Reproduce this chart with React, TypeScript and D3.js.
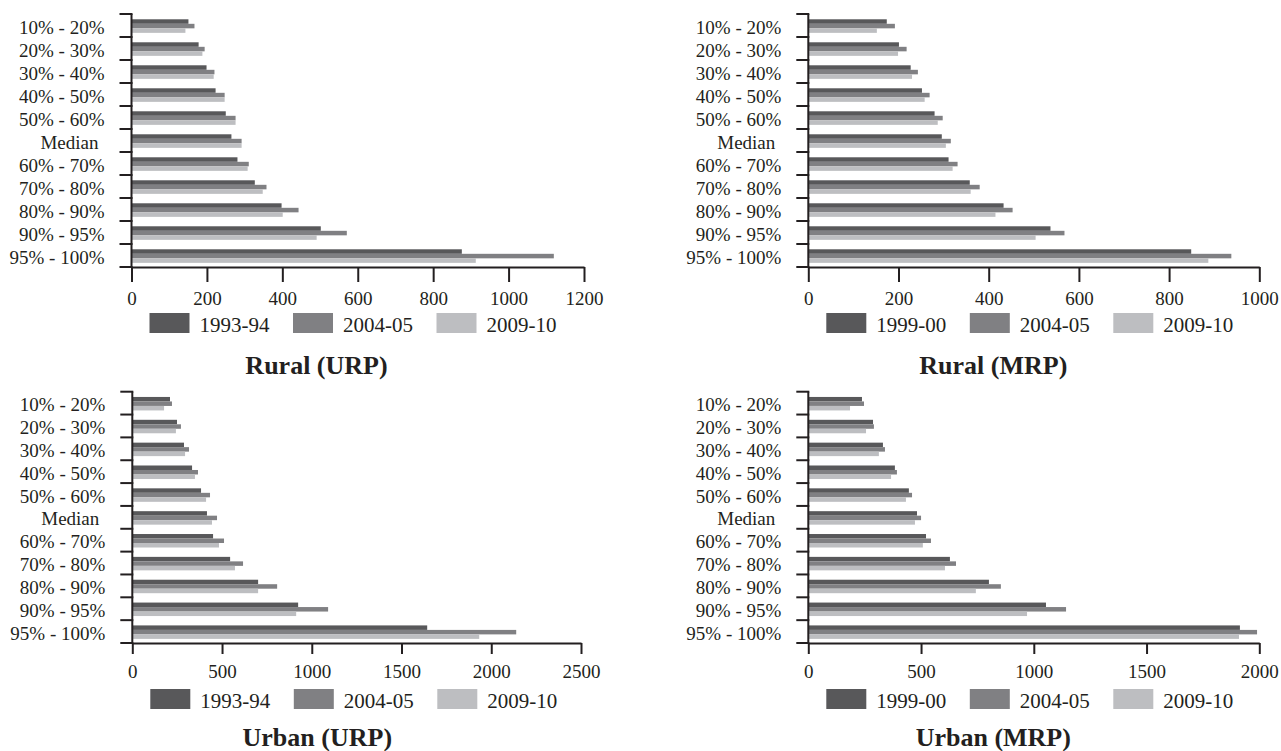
import React, { useEffect, useRef } from "react";
import * as d3 from "d3";

// decile classes, top to bottom
const categories = [
  "10% - 20%", "20% - 30%", "30% - 40%", "40% - 50%", "50% - 60%", "Median",
  "60% - 70%", "70% - 80%", "80% - 90%", "90% - 95%", "95% - 100%",
];

const urpYears = ["1993-94", "2004-05", "2009-10"];
const mrpYears = ["1999-00", "2004-05", "2009-10"];

// Rural (URP)
const ruralURP1993 = [151, 178, 199, 223, 250, 265, 281, 327, 398, 502, 876];
const ruralURP2004 = [167, 194, 220, 247, 276, 292, 311, 358, 443, 571, 1120];
const ruralURP2009 = [143, 188, 218, 247, 276, 292, 308, 348, 401, 491, 913];

// Rural (MRP)
const ruralMRP1999 = [174, 201, 227, 252, 280, 296, 311, 358, 433, 537, 849];
const ruralMRP2004 = [192, 218, 243, 269, 298, 316, 331, 380, 453, 568, 938];
const ruralMRP2009 = [152, 199, 230, 258, 287, 305, 320, 360, 415, 504, 887];

// Urban (URP)
const urbanURP1993 = [210, 249, 288, 333, 383, 416, 450, 545, 701, 924, 1643];
const urbanURP2004 = [221, 271, 316, 366, 433, 472, 511, 617, 807, 1091, 2139];
const urbanURP2009 = [177, 243, 294, 349, 411, 444, 483, 572, 701, 913, 1933];

// Urban (MRP)
const urbanMRP1999 = [238, 287, 331, 384, 446, 482, 522, 628, 801, 1054, 1914];
const urbanMRP2004 = [247, 291, 340, 393, 460, 500, 544, 655, 854, 1143, 1990];
const urbanMRP2009 = [185, 256, 313, 367, 433, 473, 508, 606, 743, 970, 1910];

const colors = ["#58585a", "#808083", "#bdbec1"];
const ink = "#231f20";
const serif = "'Liberation Serif', 'Times New Roman', serif";

const panels = [
  { title: "Rural (URP)", years: urpYears, series: [ruralURP1993, ruralURP2004, ruralURP2009],
    max: 1200, step: 200, x0: 131.5, x1: 584, top: 14, axisY: 267, tickLen: 15, labelY: 38, titleY: 107 },
  { title: "Rural (MRP)", years: mrpYears, series: [ruralMRP1999, ruralMRP2004, ruralMRP2009],
    max: 1000, step: 200, x0: 808.3, x1: 1259.3, top: 14, axisY: 267, tickLen: 15, labelY: 38, titleY: 107 },
  { title: "Urban (URP)", years: urpYears, series: [urbanURP1993, urbanURP2004, urbanURP2009],
    max: 2500, step: 500, x0: 132.3, x1: 581, top: 391.7, axisY: 643, tickLen: 11, labelY: 35, titleY: 103 },
  { title: "Urban (MRP)", years: mrpYears, series: [urbanMRP1999, urbanMRP2004, urbanMRP2009],
    max: 2000, step: 500, x0: 808.3, x1: 1259.3, top: 391.7, axisY: 643, tickLen: 11, labelY: 35, titleY: 103 },
];

function drawPanel(g: any, p: any) {
  const x = d3.scaleLinear().domain([0, p.max]).range([p.x0, p.x1]);
  const y = d3.scaleBand().domain(categories).range([p.top, p.axisY]);
  const bw = y.bandwidth();
  const inner = d3.scaleBand<number>().domain([0, 1, 2]).range([bw * 0.23, bw * 0.82]);

  // bars
  p.series.forEach((vals: number[], si: number) => {
    g.append("g")
      .selectAll("rect")
      .data(vals)
      .join("rect")
      .attr("x", x(0))
      .attr("y", (d: number, i: number) => (y(categories[i]) as number) + (inner(si) as number))
      .attr("width", (d: number) => x(d) - x(0))
      .attr("height", inner.bandwidth())
      .attr("fill", colors[si]);
  });

  // x axis
  const fs = 19;
  const xAxis = d3.axisBottom(x)
    .tickValues(d3.range(0, p.max + 1, p.step))
    .tickFormat(d3.format("d"))
    .tickSize(p.tickLen)
    .tickSizeOuter(0)
    .tickPadding(p.labelY - 0.71 * fs - p.tickLen);
  const ax = g.append("g").attr("transform", `translate(0,${p.axisY})`).call(xAxis);
  ax.select(".domain").attr("stroke", ink).attr("stroke-width", 2);
  ax.selectAll(".tick line").attr("stroke", ink).attr("stroke-width", 2);
  ax.selectAll(".tick text")
    .attr("fill", ink)
    .style("font-family", serif)
    .style("font-size", fs + "px");

  // y axis with ticks at band edges
  g.append("line")
    .attr("x1", x(0)).attr("x2", x(0))
    .attr("y1", p.top).attr("y2", p.axisY)
    .attr("stroke", ink).attr("stroke-width", 2);
  const edges = categories.map((c) => y(c) as number).concat([p.axisY]);
  g.append("g")
    .selectAll("line")
    .data(edges)
    .join("line")
    .attr("x1", x(0) - 12).attr("x2", x(0) + 1)
    .attr("y1", (d: number) => d).attr("y2", (d: number) => d)
    .attr("stroke", ink).attr("stroke-width", 2);

  g.append("g")
    .selectAll("text")
    .data(categories)
    .join("text")
    .attr("x", x(0) - 27)
    .attr("dx", (d: string) => (d === "Median" ? -6 : 0))
    .attr("y", (d: string) => (y(d) as number) + bw / 2 + 8)
    .attr("text-anchor", "end")
    .attr("fill", ink)
    .style("font-family", serif)
    .style("font-size", "19px")
    .text((d: string) => d);

  // legend
  const lg = g.append("g").attr("transform", `translate(${x(0) + 18},${p.axisY + 46})`);
  const items = lg.selectAll("g").data(p.years).join("g")
    .attr("transform", (d: string, i: number) => `translate(${i * 143.5},0)`);
  items.append("rect")
    .attr("width", 40).attr("height", 20)
    .attr("fill", (d: string, i: number) => colors[i]);
  items.append("text")
    .attr("x", 50).attr("y", 19)
    .attr("fill", ink)
    .style("font-family", serif)
    .style("font-size", "21px")
    .text((d: string) => d);

  // title
  g.append("text")
    .attr("x", x(0) + 185)
    .attr("y", p.axisY + p.titleY)
    .attr("text-anchor", "middle")
    .attr("fill", ink)
    .style("font-family", serif)
    .style("font-size", "26px")
    .style("font-weight", "bold")
    .text(p.title);
}

export default function App() {
  const ref = useRef<SVGSVGElement>(null);

  useEffect(() => {
    const svg = d3.select(ref.current);
    svg.selectAll("*").remove();
    panels.forEach((p) => drawPanel(svg.append("g"), p));
  }, []);

  return (
    <svg
      ref={ref}
      width={1281}
      height={751}
      style={{ position: "absolute", left: 0, top: 0, background: "#fff" }}
    />
  );
}
